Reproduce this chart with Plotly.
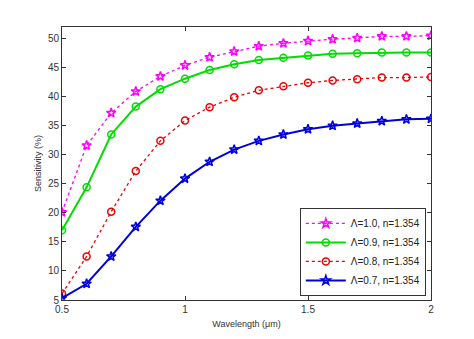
import plotly.graph_objects as go

wavelength = [0.5, 0.6, 0.7, 0.8, 0.9, 1.0, 1.1, 1.2, 1.3, 1.4, 1.5, 1.6, 1.7, 1.8, 1.9, 2.0]
s_10 = [20.1, 31.6, 37.2, 40.9, 43.5, 45.4, 46.8, 47.8, 48.7, 49.2, 49.6, 49.9, 50.1, 50.4, 50.4, 50.5]
s_09 = [17.0, 24.4, 33.5, 38.3, 41.3, 43.1, 44.6, 45.6, 46.3, 46.7, 47.1, 47.4, 47.5, 47.6, 47.6, 47.6]
s_08 = [6.1, 12.5, 20.2, 27.2, 32.4, 35.9, 38.2, 39.9, 41.1, 41.8, 42.4, 42.8, 43.0, 43.3, 43.3, 43.4]
s_07 = [5.3, 7.8, 12.5, 17.6, 22.1, 25.9, 28.8, 30.9, 32.4, 33.5, 34.4, 35.0, 35.4, 35.8, 36.1, 36.2]
names = ["Λ=1.0, n=1.354", "Λ=0.9, n=1.354", "Λ=0.8, n=1.354", "Λ=0.7, n=1.354"]
x_ticks = [0.5, 1, 1.5, 2]
x_tick_text = ["0.5", "1", "1.5", "2"]
y_ticks = [5, 10, 15, 20, 25, 30, 35, 40, 45, 50]

styles = [
    dict(color="#ff00ff", dash="dot", width=1.3, symbol="star-open", size=7),
    dict(color="#00dd00", dash="solid", width=2, symbol="circle-open", size=7),
    dict(color="#ee0000", dash="dot", width=1.3, symbol="circle-open", size=7),
    dict(color="#0000dd", dash="solid", width=2, symbol="star-open", size=7),
]

fig = go.Figure()
for ys, name, st in zip([s_10, s_09, s_08, s_07], names, styles):
    fig.add_trace(go.Scatter(
        x=wavelength, y=ys, name=name, mode="lines+markers",
        line=dict(color=st["color"], dash=st["dash"], width=st["width"]),
        marker=dict(symbol=st["symbol"], size=st["size"], color=st["color"],
                    line=dict(color=st["color"], width=1.5)),
    ))

axis_common = dict(
    showgrid=False, zeroline=False, showline=True, linecolor="#333333", linewidth=1,
    mirror="ticks", ticks="inside", ticklen=4, tickcolor="#333333",
    tickfont=dict(family="Liberation Sans, Arial", size=10, color="#333333"),
)

fig.update_layout(
    width=474, height=339,
    margin=dict(l=62, r=43, t=27, b=37),
    paper_bgcolor="white", plot_bgcolor="white",
    font=dict(family="Liberation Sans, Arial", color="#333333"),
    xaxis=dict(range=[0.5, 2], tickvals=x_ticks, ticktext=x_tick_text,
               title=dict(text="Wavelength (μm)", font=dict(size=9), standoff=6),
               **axis_common),
    yaxis=dict(range=[5, 52], tickvals=y_ticks,
               title=dict(text="Sensitivity (%)", font=dict(size=9), standoff=4),
               **axis_common),
    legend=dict(x=0.986, y=0.015, xanchor="right", yanchor="bottom",
                bgcolor="white", bordercolor="#333333", borderwidth=1,
                font=dict(size=10, color="#222222"), tracegroupgap=0,
                itemwidth=40),
    showlegend=True,
)

fig.write_html("out.html")
